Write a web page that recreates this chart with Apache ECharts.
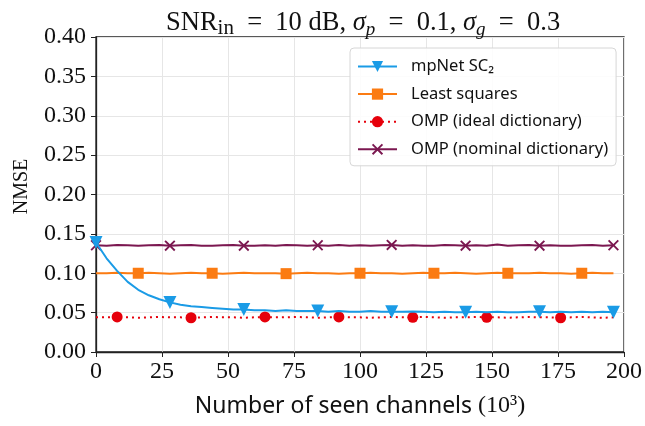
<!DOCTYPE html>
<html>
<head>
<meta charset="utf-8">
<script src="https://cdn.jsdelivr.net/npm/echarts@6/dist/echarts.min.js"></script>
<style>
  html, body { margin: 0; padding: 0; background: #fff; }
  #chart { width: 645px; height: 426px; }
</style>
</head>
<body>
<div id="chart"></div>
<script>
// number of seen channels (x 10^3), one sample every 4
const channels = [];
for (let i = 0; i < 50; i++) channels.push(i * 4);

const mpnet = [0.139, 0.119, 0.103, 0.089, 0.079, 0.072, 0.067, 0.063, 0.060, 0.058,
  0.057, 0.056, 0.055, 0.054, 0.054, 0.053, 0.053, 0.052, 0.053, 0.052,
  0.052, 0.052, 0.051, 0.052, 0.051, 0.051, 0.052, 0.051, 0.051, 0.051,
  0.0515, 0.051, 0.0505, 0.051, 0.0505, 0.0505, 0.051, 0.0505, 0.051, 0.0505,
  0.0505, 0.051, 0.051, 0.0505, 0.051, 0.0505, 0.051, 0.0505, 0.051, 0.0505];

const leastSquares = [0.100, 0.100, 0.1005, 0.100, 0.100, 0.1005, 0.100, 0.0995, 0.100, 0.1005,
  0.100, 0.100, 0.0995, 0.100, 0.1005, 0.100, 0.100, 0.100, 0.0995, 0.100,
  0.1005, 0.100, 0.100, 0.0995, 0.100, 0.100, 0.1005, 0.100, 0.100, 0.0995,
  0.100, 0.1005, 0.100, 0.100, 0.1005, 0.100, 0.0995, 0.100, 0.1005, 0.100,
  0.100, 0.100, 0.1005, 0.100, 0.100, 0.0995, 0.100, 0.1005, 0.100, 0.100];

const ompIdeal = [0.044, 0.044, 0.0445, 0.044, 0.0435, 0.044, 0.0445, 0.044, 0.044, 0.0435,
  0.044, 0.0445, 0.044, 0.044, 0.0435, 0.044, 0.0445, 0.044, 0.044, 0.0445,
  0.044, 0.0435, 0.044, 0.0445, 0.044, 0.044, 0.0435, 0.044, 0.0445, 0.044,
  0.044, 0.0445, 0.044, 0.0435, 0.044, 0.044, 0.0445, 0.044, 0.044, 0.0435,
  0.044, 0.0445, 0.044, 0.044, 0.0435, 0.044, 0.0445, 0.044, 0.0435, 0.044];

const ompNominal = [0.1355, 0.135, 0.136, 0.1355, 0.135, 0.1355, 0.136, 0.135, 0.1355, 0.136,
  0.135, 0.135, 0.1355, 0.136, 0.135, 0.135, 0.1355, 0.135, 0.136, 0.1355,
  0.135, 0.1355, 0.135, 0.136, 0.135, 0.1355, 0.135, 0.1355, 0.136, 0.135,
  0.1355, 0.135, 0.135, 0.136, 0.1355, 0.135, 0.1355, 0.135, 0.1365, 0.135,
  0.1355, 0.136, 0.135, 0.1355, 0.135, 0.135, 0.1355, 0.136, 0.135, 0.1355];

const xTicks = [0, 25, 50, 75, 100, 125, 150, 175, 200];
const yTicks = [0, 0.05, 0.10, 0.15, 0.20, 0.25, 0.30, 0.35, 0.40];

const serif = 'Liberation Serif';
const sans = 'Noto Sans';

function pairs(ys) {
  return ys.map((y, i) => [channels[i], y]);
}
// a marker on every 7th sample, starting at offset
function everySeventh(offset, size) {
  return function (v, p) {
    return (p.dataIndex - offset) % 7 === 0 && p.dataIndex >= offset ? size : 0;
  };
}

const xMark = 'path://M0,1.2L1.2,0L5,3.8L8.8,0L10,1.2L6.2,5L10,8.8L8.8,10L5,6.2L1.2,10L0,8.8L3.8,5Z';

let myChart = echarts.init(document.getElementById('chart'), null, { renderer: 'canvas' });

myChart.setOption({
  animation: false,
  title: {
    text: '{n|SNR}{sub|in}{n|  =  10 dB, }{i|σ}{isub|p}{n|  =  0.1, }{i|σ}{isub|g}{n|  =  0.3}',
    left: 161,
    top: 2,
    textStyle: {
      fontWeight: 'normal',
      rich: {
        n: { fontFamily: serif, fontSize: 26.5, fontWeight: 'normal', color: '#111', lineHeight: 32 },
        i: { fontFamily: serif, fontSize: 26.5, fontWeight: 'normal', fontStyle: 'italic', color: '#111', lineHeight: 32 },
        sub: { fontFamily: serif, fontSize: 21, fontWeight: 'normal', color: '#111', lineHeight: 17, verticalAlign: 'bottom' },
        isub: { fontFamily: serif, fontSize: 19, fontWeight: 'normal', fontStyle: 'italic', color: '#111', lineHeight: 17, verticalAlign: 'bottom' }
      }
    }
  },
  grid: {
    left: 96, right: 19, top: 37, bottom: 74,
    show: true, borderColor: '#222', borderWidth: 1.3
  },
  legend: {
    left: 350, top: 48,
    orient: 'vertical',
    itemWidth: 39, itemHeight: 14, itemGap: 10.6,
    padding: [10, 8, 8, 7],
    backgroundColor: 'rgba(255,255,255,0.85)',
    borderColor: '#d6d6d6', borderWidth: 1, borderRadius: 4,
    textStyle: { fontFamily: sans, fontSize: 16.5, color: '#111', padding: [0, 0, 0, 9] },
    data: ['mpNet SC₂', 'Least squares', 'OMP (ideal dictionary)', 'OMP (nominal dictionary)']
  },
  xAxis: {
    type: 'value', min: 0, max: 200, interval: 25,
    name: '{a|Number of seen channels }{b|(10³)}',
    nameLocation: 'middle', nameGap: 42,
    nameTextStyle: {
      rich: {
        a: { fontFamily: sans, fontSize: 23, color: '#111' },
        b: { fontFamily: serif, fontSize: 24, color: '#111' }
      }
    },
    axisLine: { show: true, lineStyle: { color: '#222', width: 1.3 } },
    axisTick: { show: true, length: 5, lineStyle: { color: '#222' } },
    axisLabel: { fontFamily: serif, fontSize: 24, color: '#111', margin: 8,
      formatter: v => xTicks.includes(v) ? String(v) : '' },
    splitLine: { show: true, lineStyle: { color: '#e6e6e6', width: 1 } }
  },
  yAxis: {
    type: 'value', min: 0, max: 0.4, interval: 0.05,
    name: 'NMSE', nameLocation: 'middle', nameGap: 64,
    nameTextStyle: { fontFamily: serif, fontSize: 20, color: '#111', padding: [0, 0, 0, 16] },
    axisLine: { show: true, lineStyle: { color: '#222', width: 1.3 } },
    axisTick: { show: true, length: 5, lineStyle: { color: '#222' } },
    axisLabel: { fontFamily: serif, fontSize: 24, color: '#111', margin: 10,
      formatter: v => yTicks.some(t => Math.abs(t - v) < 1e-9) ? v.toFixed(2) : '' },
    splitLine: { show: true, lineStyle: { color: '#e6e6e6', width: 1 } }
  },
  series: [
    {
      name: 'mpNet SC₂', type: 'line', data: pairs(mpnet),
      color: '#1a9be6',
      symbol: 'triangle', symbolRotate: 180, symbolSize: everySeventh(0, 13),
      lineStyle: { width: 2 }, z: 5
    },
    {
      name: 'Least squares', type: 'line', data: pairs(leastSquares),
      color: '#fb7b12',
      symbol: 'rect', symbolSize: everySeventh(4, 11),
      lineStyle: { width: 2 }
    },
    {
      name: 'OMP (ideal dictionary)', type: 'line', data: pairs(ompIdeal),
      color: '#e6000b',
      symbol: 'circle', symbolSize: everySeventh(2, 11),
      lineStyle: { width: 2, type: [2, 4] }
    },
    {
      name: 'OMP (nominal dictionary)', type: 'line', data: pairs(ompNominal),
      color: '#7b1750',
      symbol: xMark, symbolSize: everySeventh(0, 11),
      lineStyle: { width: 2 }
    }
  ]
});
</script>
</body>
</html>
